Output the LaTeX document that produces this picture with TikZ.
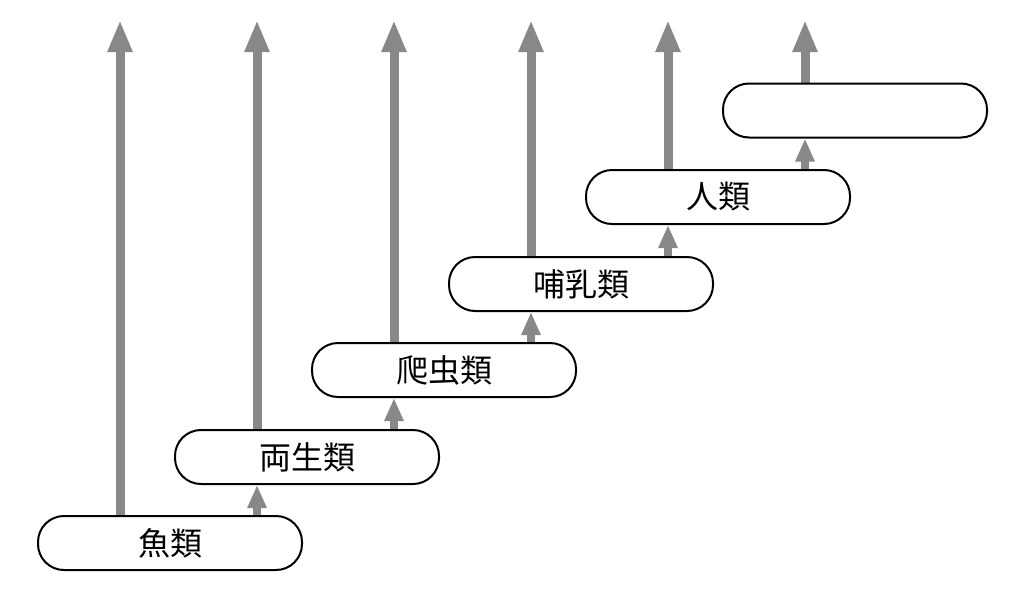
\documentclass[tikz,border=0pt]{standalone}
\usepackage{fontspec}
\newfontfamily\jp{Noto Sans CJK JP}
\usetikzlibrary{arrows.meta,backgrounds}
\definecolor{arrowgray}{RGB}{136,136,136}
\tikzset{
  box/.style={draw=black, line width=2pt, fill=white, rounded corners=26pt,
    minimum width=264pt, minimum height=54pt, inner sep=0pt,
    font=\jp\fontsize{32}{38}\selectfont},
  longarrow/.style={draw=arrowgray, line width=9pt, -{Triangle[length=32pt,width=23pt]}},
  shortarrow/.style={draw=arrowgray, line width=8pt, -{Triangle[length=23pt,width=18pt]}}
}
\begin{document}
\begin{tikzpicture}[x=1pt,y=-1pt]
\useasboundingbox (0,0) rectangle (1024,605);
\coordinate (t1) at (120,20);
\coordinate (t2) at (257,20);
\coordinate (t3) at (394,20);
\coordinate (t4) at (531,20);
\coordinate (t5) at (668,20);
\coordinate (t6) at (805,20);
\node[box] (b1) at (170,543) {魚類};
\node[box] (b2) at (307,457) {両生類};
\node[box] (b3) at (444,370) {爬虫類};
\node[box] (b4) at (581,284) {哺乳類};
\node[box] (b5) at (718,197) {人類};
\node[box] (b6) at (855,110.5) {};
\begin{scope}[on background layer]
\draw[longarrow] (b1.north -| t1) -- (t1);
\draw[longarrow] (b2.north -| t2) -- (t2);
\draw[longarrow] (b3.north -| t3) -- (t3);
\draw[longarrow] (b4.north -| t4) -- (t4);
\draw[longarrow] (b5.north -| t5) -- (t5);
\draw[longarrow] (b6.north -| t6) -- (t6);
\draw[shortarrow] (b1.north -| t2) -- (b2.south -| t2);
\draw[shortarrow] (b2.north -| t3) -- (b3.south -| t3);
\draw[shortarrow] (b3.north -| t4) -- (b4.south -| t4);
\draw[shortarrow] (b4.north -| t5) -- (b5.south -| t5);
\draw[shortarrow] (b5.north -| t6) -- (b6.south -| t6);
\end{scope}
\end{tikzpicture}
\end{document}
